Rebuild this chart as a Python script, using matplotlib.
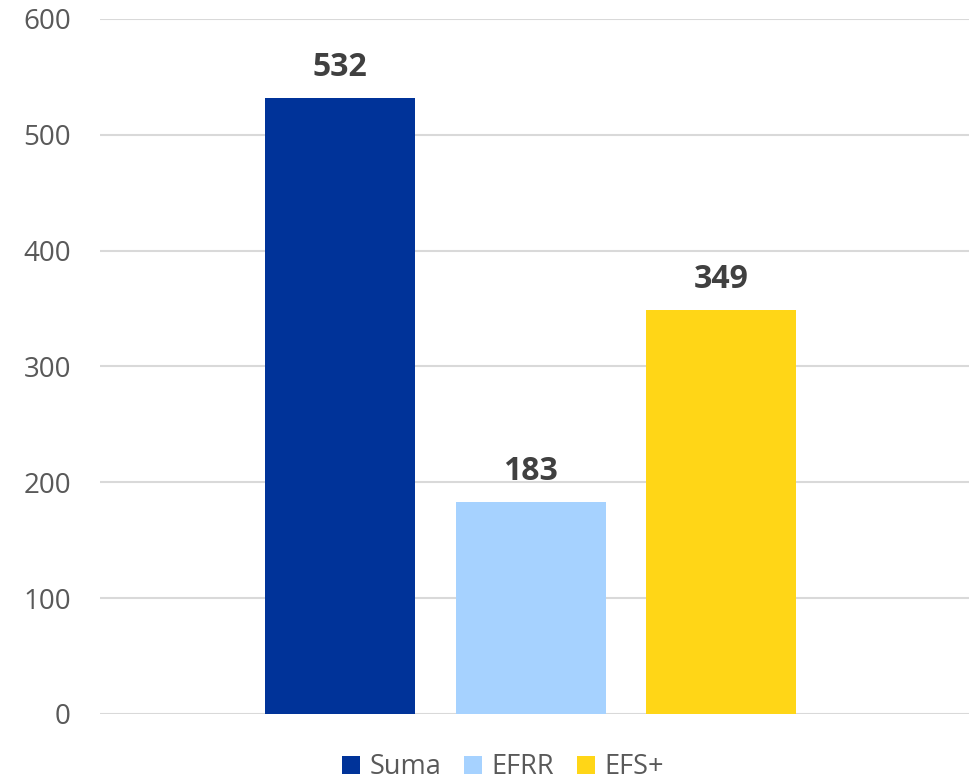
import matplotlib.pyplot as plt

series = ['Suma', 'EFRR', 'EFS+']
values = [532, 183, 349]
colors = ['#003399', '#A6D2FF', '#FFD617']
yticks = [0, 100, 200, 300, 400, 500, 600]

plt.rcParams['font.family'] = ['Open Sans', 'DejaVu Sans']

fig = plt.figure(figsize=(9.69, 7.82), dpi=100)
ax = fig.add_axes([100 / 969, 68 / 782, 869 / 969, 695 / 782])

pos = list(range(len(series)))
bars = ax.bar(pos, values, width=0.787, color=colors, label=series, zorder=3)

for p, v in zip(pos, values):
    ax.text(p, v + 12, str(v), ha='center', va='bottom', fontsize=23,
            fontweight='bold', color='#404040')

ax.set_ylim(0, 600)
ax.set_xlim(-1.26, 3.30)
ax.set_yticks(yticks)
ax.set_xticks([])
ax.tick_params(axis='y', length=0, pad=21, labelsize=20, labelcolor='#595959')
ax.yaxis.grid(True, color='#D9D9D9', linewidth=1.5, zorder=0)
for s in ax.spines.values():
    s.set_visible(False)

leg = fig.legend(handles=bars, labels=series, loc='lower center',
                 bbox_to_anchor=(0.519, -0.03), ncol=3, frameon=False,
                 fontsize=19.5, handlelength=0.65, handleheight=0.65,
                 handletextpad=0.35, columnspacing=0.85, labelcolor='#595959')

fig.savefig('out.png', dpi=100)
